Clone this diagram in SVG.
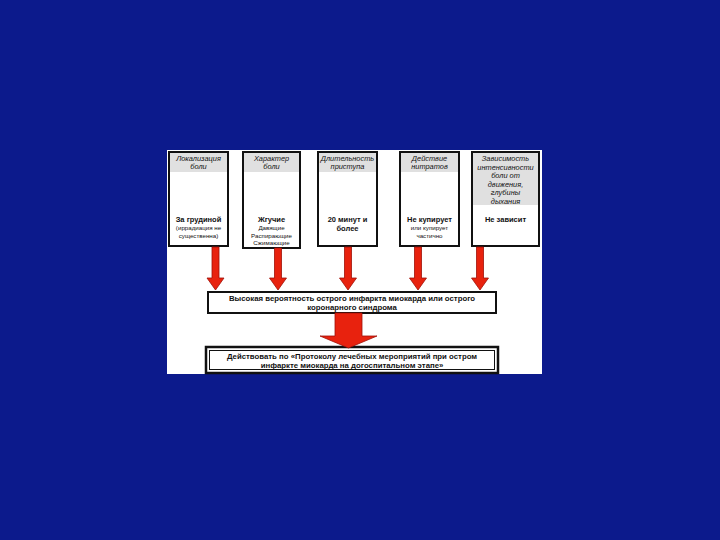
<svg xmlns="http://www.w3.org/2000/svg" width="720" height="540" viewBox="0 0 720 540">
<defs>
<style>
.box{fill:#ffffff;stroke:#111111;stroke-width:2}
.hdr{fill:#e0e0e0}
.h{font-family:"Liberation Sans",Arial,sans-serif;font-size:7.4px;font-style:italic;fill:#111;text-anchor:middle}
.b{font-family:"Liberation Sans",Arial,sans-serif;font-size:7.5px;font-weight:bold;fill:#111;text-anchor:middle}
.s{font-family:"Liberation Sans",Arial,sans-serif;font-size:6.2px;fill:#111;text-anchor:middle}
.m{font-family:"Liberation Sans",Arial,sans-serif;font-size:7.8px;font-weight:bold;fill:#111;text-anchor:middle}
.arr{fill:#e8220e;stroke:#a01008;stroke-width:0.8}
</style>
</defs>
<rect x="0" y="0" width="720" height="540" fill="#0c1a8c"/>
<rect x="167" y="150" width="375" height="224" fill="#ffffff"/>

<g id="node-localization">
<rect class="box" x="169" y="152" width="59" height="94"/>
<rect class="hdr" x="170" y="153" width="57" height="19"/>
<text class="h" x="198.5" y="161">Локализация</text>
<text class="h" x="198.5" y="169">боли</text>
<text class="b" x="198.5" y="222">За грудиной</text>
<text class="s" x="198.5" y="230">(иррадиация не</text>
<text class="s" x="198.5" y="238">существенна)</text>
</g>

<g id="node-character">
<rect class="box" x="243" y="152" width="57" height="96"/>
<rect class="hdr" x="244" y="153" width="55" height="19"/>
<text class="h" x="271.5" y="161">Характер</text>
<text class="h" x="271.5" y="169">боли</text>
<text class="b" x="271.5" y="222">Жгучие</text>
<text class="s" x="271.5" y="230">Давящие</text>
<text class="s" x="271.5" y="238">Распирающие</text>
<text class="s" x="271.5" y="245">Сжимающие</text>
</g>

<g id="node-duration">
<rect class="box" x="318" y="152" width="59" height="94"/>
<rect class="hdr" x="319" y="153" width="57" height="19"/>
<text class="h" x="347.5" y="161">Длительность</text>
<text class="h" x="347.5" y="169">приступа</text>
<text class="b" x="347.5" y="222">20 минут и</text>
<text class="b" x="347.5" y="231">более</text>
</g>

<g id="node-nitrates">
<rect class="box" x="400" y="152" width="59" height="94"/>
<rect class="hdr" x="401" y="153" width="57" height="19"/>
<text class="h" x="429.5" y="161">Действие</text>
<text class="h" x="429.5" y="169">нитратов</text>
<text class="b" x="429.5" y="222">Не купирует</text>
<text class="s" x="429.5" y="230">или купирует</text>
<text class="s" x="429.5" y="238">частично</text>
</g>

<g id="node-dependence">
<rect class="box" x="472" y="152" width="67" height="94"/>
<rect class="hdr" x="473" y="153" width="65" height="52"/>
<text class="h" x="505.5" y="161">Зависимость</text>
<text class="h" x="505.5" y="169.5">интенсивности</text>
<text class="h" x="505.5" y="178">боли от</text>
<text class="h" x="505.5" y="186.5">движения,</text>
<text class="h" x="505.5" y="195">глубины</text>
<text class="h" x="505.5" y="203.5">дыхания</text>
<text class="b" x="505.5" y="222">Не зависит</text>
</g>

<g id="node-probability">
<rect class="box" x="208" y="292" width="288" height="21"/>
<text class="m" x="352" y="301">Высокая вероятность острого инфаркта миокарда или острого</text>
<text class="m" x="352" y="309.5">коронарного синдрома</text>
</g>

<g id="node-action">
<rect x="206" y="347" width="292" height="26" fill="#ffffff" stroke="#111" stroke-width="2.5"/>
<rect x="209.5" y="350.5" width="285" height="19" fill="none" stroke="#111" stroke-width="1"/>
<text class="m" x="352" y="359">Действовать по «Протоколу лечебных мероприятий при остром</text>
<text class="m" x="352" y="367.5">инфаркте миокарда на догоспитальном этапе»</text>
</g>

<g id="connectors">
<path class="arr" d="M212,247 H219 V278 H224 L215.5,290 L207,278 H212 Z"/>
<path class="arr" d="M274.5,248 H281.5 V278 H286.5 L278,290 L269.5,278 H274.5 Z"/>
<path class="arr" d="M344.5,247 H351.5 V278 H356.5 L348,290 L339.5,278 H344.5 Z"/>
<path class="arr" d="M414.5,247 H421.5 V278 H426.5 L418,290 L409.5,278 H414.5 Z"/>
<path class="arr" d="M476.5,247 H483.5 V278 H488.5 L480,290 L471.5,278 H476.5 Z"/>
<path class="arr" d="M335,313 H362 V336 H377 L348.5,348 L320,336 H335 Z"/>
</g>
</svg>
